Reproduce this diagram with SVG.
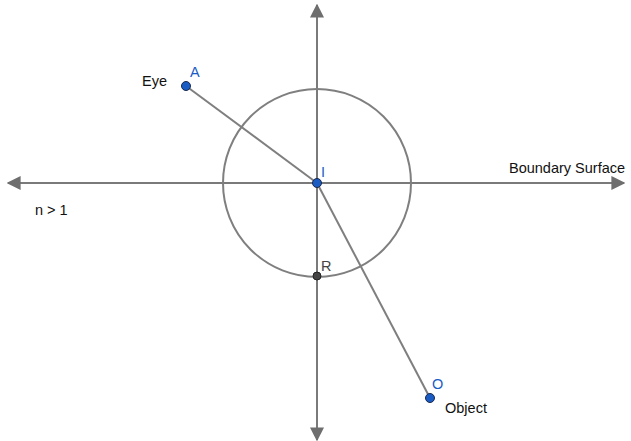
<svg xmlns="http://www.w3.org/2000/svg" width="631" height="441" viewBox="0 0 631 441">
<style>
.ax{stroke:#7a7a7a;stroke-width:2;fill:none}
.ln{stroke:#7f7f7f;stroke-width:2;fill:none}
.pt{fill:#1a5bc4;stroke:#1a2a4a;stroke-width:1}
.pr{fill:#444;stroke:#222;stroke-width:1}
text{font-family:"Liberation Sans",Arial,sans-serif;font-size:14.5px}
.bl{fill:#1a5bc4}
.bk{fill:#111}
.gr{fill:#444}
</style>
<defs>
<marker id="ar" viewBox="0 0 10 10" refX="9" refY="5" markerWidth="7" markerHeight="7" markerUnits="strokeWidth" orient="auto">
<path d="M0,0 L10,5 L0,10 Z" fill="#6e6e6e"/>
</marker>
</defs>
<g id="connectors">
<line class="ax" x1="317" y1="183" x2="317" y2="5" marker-end="url(#ar)"/>
<line class="ax" x1="317" y1="183" x2="317" y2="440" marker-end="url(#ar)"/>
<line class="ax" x1="317" y1="183" x2="8" y2="183" marker-end="url(#ar)"/>
<line class="ax" x1="317" y1="183" x2="624" y2="183" marker-end="url(#ar)"/>
<circle class="ln" cx="317" cy="183" r="94"/>
<line class="ln" x1="186" y1="86" x2="317" y2="183"/>
<line class="ln" x1="317" y1="183" x2="430" y2="398"/>
</g>
<g id="A"><circle class="pt" cx="186" cy="86" r="4.5"/><text class="bl" x="190" y="77">A</text><text class="bk" x="142" y="86">Eye</text></g>
<g id="I"><circle class="pt" cx="317" cy="183" r="4.5"/><text class="bl" x="321" y="177">I</text></g>
<g id="R"><circle class="pr" cx="317" cy="276" r="4"/><text class="gr" x="321" y="271">R</text></g>
<g id="O"><circle class="pt" cx="430" cy="398" r="4.5"/><text class="bl" x="432" y="389">O</text><text class="bk" x="445" y="413">Object</text></g>
<g id="labels"><text class="bk" x="509" y="173">Boundary Surface</text><text class="bk" x="35" y="215">n &gt; 1</text></g>
</svg>
